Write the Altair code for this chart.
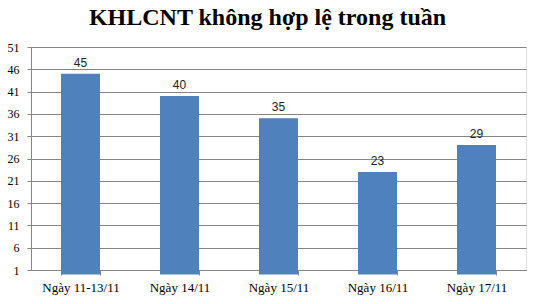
import altair as alt
import pandas as pd

categories = ["Ngày 11-13/11", "Ngày 14/11", "Ngày 15/11", "Ngày 16/11", "Ngày 17/11"]
values = [45, 40, 35, 23, 29]
y_ticks = [1, 6, 11, 16, 21, 26, 31, 36, 41, 46, 51]

df = pd.DataFrame({"cat": categories, "val": values})

x = alt.X("cat:N", sort=categories, title=None,
          scale=alt.Scale(paddingInner=0.606, paddingOuter=0.303),
          axis=alt.Axis(labelAngle=0, labelFont="Liberation Serif", labelFontSize=13,
                        labelColor="black", domainColor="#868686", tickColor="#868686",
                        tickBand="extent", tickSize=5, labelPadding=6, grid=False))
y = alt.Y("val:Q", title=None,
          scale=alt.Scale(domain=[1, 51], nice=False, zero=False),
          axis=alt.Axis(values=y_ticks, labelFont="Liberation Serif", labelFontSize=12,
                        labelColor="black", domainColor="#868686", tickColor="#868686",
                        gridColor="#868686", tickSize=4, labelPadding=8))

bars = alt.Chart(df).mark_bar(color="#4F81BD").encode(x=x, y=y)
labels = alt.Chart(df).mark_text(dy=-11, font="Liberation Sans", fontSize=12,
                                 color="#222222").encode(x=x, y=y, text="val:Q")

chart = (bars + labels).properties(
    width=495, height=223,
    title=alt.TitleParams("KHLCNT không hợp lệ trong tuần", font="Liberation Serif",
                          fontSize=24, fontWeight="bold", color="black", anchor="middle",
                          offset=11, dx=-11),
    autosize=alt.AutoSizeParams(type="none"),
    padding={"left": 31, "top": 47, "right": 10, "bottom": 34},
).configure_view(stroke=None).configure(background="white")

chart.save("out.html", embed_options={"renderer": "svg", "actions": False})
